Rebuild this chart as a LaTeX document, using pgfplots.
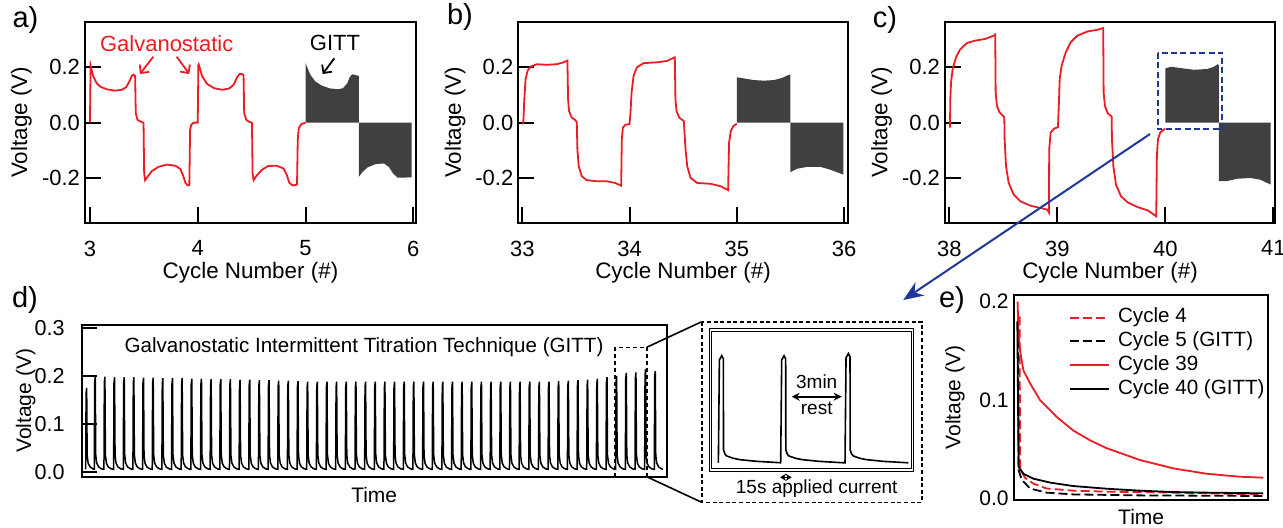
\documentclass[border=0pt]{standalone}
\usepackage{fontspec}
\setmainfont{Liberation Sans}
\usepackage{pgfplots}
\pgfplotsset{compat=1.18}
\usetikzlibrary{arrows.meta}
\definecolor{gred}{RGB}{237,28,36}
\definecolor{ggray}{RGB}{64,64,64}
\definecolor{gblue}{RGB}{31,56,148}
\pgfplotsset{
 cyc/.style={scale only axis, anchor=south west, height=100.35pt, ymin=-0.36, ymax=0.362,
   axis line style={line width=1pt}, tick style={black, line width=1pt}, major tick length=8pt,
   tick align=inside, xtick pos=left, ytick pos=left,
   ytick={-0.2,0,0.2}, yticklabels={-0.2,0.0,0.2},
   /pgf/number format/assume math mode=true,
   tick label style={font=\fontsize{11}{13}\selectfont},
   label style={font=\fontsize{11.2}{13}\selectfont, inner sep=0.5pt},
   xlabel={Cycle Number (\#)}, ylabel={Voltage (V)},
   xlabel style={at={(axis description cs:0.5,-0.249)}, anchor=center},
   ylabel style={at={(axis description cs:-0.192,0.5)}, anchor=center},
   xticklabel style={inner sep=0.5pt, yshift=-8.3pt}, yticklabel style={xshift=1pt}},
}
\begin{document}
\begin{tikzpicture}
\path[use as bounding box] (0,0) rectangle (641.5pt,263.5pt);
% ---------------- panel a
\begin{axis}[cyc, at={(42.5pt,152.15pt)}, width=165.5pt, xmin=2.954, xmax=6.025, xtick={3,4,5,6}]
\addplot[draw=none, fill=ggray] coordinates {(5.0,0)(5.0,0.214)(5.045,0.172)(5.091,0.148)(5.152,0.133)(5.227,0.123)(5.303,0.12)(5.348,0.124)(5.388,0.142)(5.409,0.163)(5.433,0.174)(5.494,0.168)(5.494,0)};
\addplot[draw=none, fill=ggray] coordinates {(5.494,0)(5.494,-0.195)(5.53,-0.177)(5.576,-0.161)(5.652,-0.149)(5.727,-0.147)(5.773,-0.159)(5.812,-0.183)(5.855,-0.198)(5.985,-0.197)(5.985,0)};
\addplot[gred, line width=0.9pt] coordinates {(3.0,0)(3.006,0.205)(3.031,0.166)(3.062,0.142)(3.093,0.13)(3.155,0.12)(3.233,0.115)(3.295,0.118)(3.335,0.127)(3.366,0.148)(3.388,0.168)(3.404,0.173)(3.419,0.168)(3.425,0.034)(3.441,0.01)(3.481,0.002)(3.497,0)(3.503,-0.183)(3.512,-0.207)(3.534,-0.195)(3.575,-0.174)(3.637,-0.159)(3.714,-0.151)(3.792,-0.155)(3.839,-0.167)(3.863,-0.189)(3.885,-0.216)(3.907,-0.226)(3.922,-0.225)(3.929,-0.026)(3.941,-0.007)(3.963,0)(4.0,0)(4.006,0.208)(4.009,0.21)(4.041,0.166)(4.088,0.139)(4.151,0.124)(4.23,0.118)(4.292,0.123)(4.333,0.136)(4.365,0.163)(4.387,0.175)(4.409,0.175)(4.425,0.171)(4.431,0.034)(4.45,0.01)(4.481,0.002)(4.503,0)(4.509,-0.183)(4.519,-0.207)(4.544,-0.192)(4.591,-0.171)(4.654,-0.156)(4.733,-0.155)(4.796,-0.165)(4.827,-0.189)(4.849,-0.216)(4.881,-0.226)(4.921,-0.223)(4.928,-0.062)(4.937,-0.02)(4.962,-0.005)(5.0,0)};
\end{axis}
% ---------------- panel b
\begin{axis}[cyc, at={(259.15pt,152.15pt)}, width=164.7pt, xmin=32.963, xmax=36.034, xtick={33,34,35,36}]
\addplot[draw=none, fill=ggray] coordinates {(35,0)(35,0.163)(35.068,0.159)(35.16,0.153)(35.253,0.151)(35.346,0.153)(35.423,0.161)(35.485,0.172)(35.5,0.172)(35.5,0)};
\addplot[draw=none, fill=ggray] coordinates {(35.5,0)(35.5,-0.178)(35.562,-0.166)(35.654,-0.159)(35.778,-0.159)(35.87,-0.169)(35.994,-0.187)(35.994,0)};
\addplot[gred, line width=0.9pt] coordinates {(33.009,-0.006)(33.019,0.084)(33.031,0.157)(33.05,0.187)(33.081,0.202)(33.134,0.21)(33.227,0.208)(33.321,0.21)(33.383,0.217)(33.421,0.223)(33.427,0.084)(33.436,0.042)(33.461,0.018)(33.492,0.01)(33.508,0.002)(33.514,-0.096)(33.526,-0.157)(33.555,-0.193)(33.601,-0.207)(33.695,-0.211)(33.788,-0.211)(33.866,-0.217)(33.922,-0.227)(33.928,-0.06)(33.938,-0.018)(33.96,-0.008)(34.0,-0.005)(34.009,0.036)(34.019,0.108)(34.038,0.169)(34.069,0.199)(34.131,0.214)(34.256,0.217)(34.35,0.222)(34.422,0.235)(34.428,0.084)(34.438,0.042)(34.463,0.018)(34.506,0.006)(34.522,-0.096)(34.538,-0.157)(34.569,-0.199)(34.631,-0.217)(34.756,-0.22)(34.85,-0.229)(34.919,-0.243)(34.928,-0.072)(34.944,-0.03)(34.969,-0.012)(35.0,-0.004)};
\end{axis}
% ---------------- panel c
\begin{axis}[cyc, at={(472.5pt,152.15pt)}, width=165pt, xmin=37.96, xmax=41.016, xtick={38,39,40,41}]
\addplot[draw=none, fill=ggray] coordinates {(40,0)(40,0.195)(40.055,0.201)(40.146,0.196)(40.268,0.19)(40.39,0.193)(40.451,0.201)(40.488,0.211)(40.495,0.205)(40.495,0)};
\addplot[draw=none, fill=ggray] coordinates {(40.495,0)(40.495,-0.21)(40.573,-0.21)(40.665,-0.202)(40.787,-0.199)(40.878,-0.205)(40.976,-0.223)(40.976,0)};
\addplot[gred, line width=0.9pt] coordinates {(38.006,-0.018)(38.009,0.084)(38.016,0.145)(38.031,0.193)(38.062,0.235)(38.099,0.263)(38.161,0.286)(38.239,0.295)(38.332,0.301)(38.41,0.313)(38.425,0.317)(38.429,0.108)(38.441,0.06)(38.466,0.036)(38.497,0.024)(38.509,0.02)(38.512,-0.06)(38.525,-0.157)(38.55,-0.217)(38.596,-0.259)(38.658,-0.283)(38.752,-0.299)(38.845,-0.307)(38.907,-0.313)(38.922,-0.323)(38.925,-0.096)(38.938,-0.036)(38.969,-0.022)(39.006,-0.016)(39.016,0.084)(39.022,0.157)(39.04,0.205)(39.078,0.253)(39.124,0.289)(39.186,0.313)(39.28,0.328)(39.373,0.334)(39.425,0.34)(39.429,0.108)(39.441,0.06)(39.466,0.034)(39.503,0.022)(39.506,-0.06)(39.519,-0.157)(39.543,-0.223)(39.59,-0.265)(39.652,-0.287)(39.745,-0.304)(39.839,-0.316)(39.916,-0.337)(39.922,-0.12)(39.932,-0.06)(39.953,-0.036)(39.978,-0.027)(40.0,-0.022)};
\end{axis}
% ---------------- panel d
\begin{axis}[scale only axis, anchor=south west, at={(40.85pt,25.15pt)}, width=292.5pt, height=75.85pt,
  xmin=-0.305, xmax=60.285, ymin=-0.0104, ymax=0.306, xtick=\empty,
  ytick={0,0.1,0.2,0.3}, yticklabels={0.0,0.1,0.2,0.3}, ytick pos=left, tick align=inside,
  major tick length=7.5pt, tick style={black, line width=0.9pt}, axis line style={line width=0.9pt},
  /pgf/number format/assume math mode=true,
  tick label style={font=\fontsize{10.8}{12}\selectfont}, yticklabel style={xshift=-5pt},
  label style={font=\fontsize{10.5}{12}\selectfont},
  xlabel={Time}, ylabel={Voltage (V)},
  xlabel style={at={(axis description cs:0.5,-0.1206)}, anchor=center},
  ylabel style={at={(axis description cs:-0.0959,0.5)}, anchor=center}]
\addplot[black, line width=0.75pt] coordinates {
(0.11,0.005)(0.15,0.163)(0.21,0.175)(0.26,0.035)(0.36,0.018)(0.56,0.01)(0.86,0.006)
(1,.005)(1.04,.186)(1.1,.198)(1.15,.035)(1.25,.018)(1.45,.01)(1.75,.006)
(2,.005)(2.04,.186)(2.1,.198)(2.15,.035)(2.25,.018)(2.45,.01)(2.75,.006)
(3,.005)(3.04,.185)(3.1,.197)(3.15,.035)(3.25,.018)(3.45,.01)(3.75,.006)
(4,.005)(4.04,.185)(4.1,.197)(4.15,.035)(4.25,.018)(4.45,.01)(4.75,.006)
(5,.005)(5.04,.185)(5.1,.197)(5.15,.035)(5.25,.018)(5.45,.01)(5.75,.006)
(6,.005)(6.04,.184)(6.1,.196)(6.15,.035)(6.25,.018)(6.45,.01)(6.75,.006)
(7,.005)(7.04,.184)(7.1,.196)(7.15,.035)(7.25,.018)(7.45,.01)(7.75,.006)
(8,.005)(8.04,.183)(8.1,.195)(8.15,.035)(8.25,.018)(8.45,.01)(8.75,.006)
(9,.005)(9.04,.183)(9.1,.195)(9.15,.035)(9.25,.018)(9.45,.01)(9.75,.006)
(10,.005)(10.04,.183)(10.1,.195)(10.15,.035)(10.25,.018)(10.45,.01)(10.75,.006)
(11,.005)(11.04,.182)(11.1,.194)(11.15,.035)(11.25,.018)(11.45,.01)(11.75,.006)
(12,.005)(12.04,.182)(12.1,.194)(12.15,.035)(12.25,.018)(12.45,.01)(12.75,.006)
(13,.005)(13.04,.181)(13.1,.193)(13.15,.035)(13.25,.018)(13.45,.01)(13.75,.006)
(14,.005)(14.04,.181)(14.1,.193)(14.15,.035)(14.25,.018)(14.45,.01)(14.75,.006)
(15,.005)(15.04,.181)(15.1,.193)(15.15,.035)(15.25,.018)(15.45,.01)(15.75,.006)
(16,.005)(16.04,.180)(16.1,.192)(16.15,.035)(16.25,.018)(16.45,.01)(16.75,.006)
(17,.005)(17.04,.180)(17.1,.192)(17.15,.035)(17.25,.018)(17.45,.01)(17.75,.006)
(18,.005)(18.04,.179)(18.1,.191)(18.15,.035)(18.25,.018)(18.45,.01)(18.75,.006)
(19,.005)(19.04,.179)(19.1,.191)(19.15,.035)(19.25,.018)(19.45,.01)(19.75,.006)
(20,.005)(20.04,.178)(20.1,.190)(20.15,.035)(20.25,.018)(20.45,.01)(20.75,.006)
(21,.005)(21.04,.178)(21.1,.190)(21.15,.035)(21.25,.018)(21.45,.01)(21.75,.006)
(22,.005)(22.04,.177)(22.1,.189)(22.15,.035)(22.25,.018)(22.45,.01)(22.75,.006)
(23,.005)(23.04,.176)(23.1,.188)(23.15,.035)(23.25,.018)(23.45,.01)(23.75,.006)
(24,.005)(24.04,.176)(24.1,.188)(24.15,.035)(24.25,.018)(24.45,.01)(24.75,.006)
(25,.005)(25.04,.176)(25.1,.188)(25.15,.035)(25.25,.018)(25.45,.01)(25.75,.006)
(26,.005)(26.04,.176)(26.1,.188)(26.15,.035)(26.25,.018)(26.45,.01)(26.75,.006)
(27,.005)(27.04,.176)(27.1,.188)(27.15,.035)(27.25,.018)(27.45,.01)(27.75,.006)
(28,.005)(28.04,.176)(28.1,.188)(28.15,.035)(28.25,.018)(28.45,.01)(28.75,.006)
(29,.005)(29.04,.176)(29.1,.188)(29.15,.035)(29.25,.018)(29.45,.01)(29.75,.006)
(30,.005)(30.04,.176)(30.1,.188)(30.15,.035)(30.25,.018)(30.45,.01)(30.75,.006)
(31,.005)(31.04,.176)(31.1,.188)(31.15,.035)(31.25,.018)(31.45,.01)(31.75,.006)
(32,.005)(32.04,.176)(32.1,.188)(32.15,.035)(32.25,.018)(32.45,.01)(32.75,.006)
(33,.005)(33.04,.176)(33.1,.188)(33.15,.035)(33.25,.018)(33.45,.01)(33.75,.006)
(34,.005)(34.04,.176)(34.1,.188)(34.15,.035)(34.25,.018)(34.45,.01)(34.75,.006)
(35,.005)(35.04,.176)(35.1,.188)(35.15,.035)(35.25,.018)(35.45,.01)(35.75,.006)
(36,.005)(36.04,.176)(36.1,.188)(36.15,.035)(36.25,.018)(36.45,.01)(36.75,.006)
(37,.005)(37.04,.176)(37.1,.188)(37.15,.035)(37.25,.018)(37.45,.01)(37.75,.006)
(38,.005)(38.04,.176)(38.1,.188)(38.15,.035)(38.25,.018)(38.45,.01)(38.75,.006)
(39,.005)(39.04,.176)(39.1,.188)(39.15,.035)(39.25,.018)(39.45,.01)(39.75,.006)
(40,.005)(40.04,.176)(40.1,.188)(40.15,.035)(40.25,.018)(40.45,.01)(40.75,.006)
(41,.005)(41.04,.176)(41.1,.188)(41.15,.035)(41.25,.018)(41.45,.01)(41.75,.006)
(42,.005)(42.04,.176)(42.1,.188)(42.15,.035)(42.25,.018)(42.45,.01)(42.75,.006)
(43,.005)(43.04,.176)(43.1,.188)(43.15,.035)(43.25,.018)(43.45,.01)(43.75,.006)
(44,.005)(44.04,.176)(44.1,.188)(44.15,.035)(44.25,.018)(44.45,.01)(44.75,.006)
(45,.005)(45.04,.176)(45.1,.188)(45.15,.035)(45.25,.018)(45.45,.01)(45.75,.006)
(46,.005)(46.04,.176)(46.1,.188)(46.15,.035)(46.25,.018)(46.45,.01)(46.75,.006)
(47,.005)(47.04,.176)(47.1,.188)(47.15,.035)(47.25,.018)(47.45,.01)(47.75,.006)
(48,.005)(48.04,.176)(48.1,.188)(48.15,.035)(48.25,.018)(48.45,.01)(48.75,.006)
(49,.005)(49.04,.177)(49.1,.189)(49.15,.035)(49.25,.018)(49.45,.01)(49.75,.006)
(50,.005)(50.04,.178)(50.1,.190)(50.15,.035)(50.25,.018)(50.45,.01)(50.75,.006)
(51,.005)(51.04,.179)(51.1,.191)(51.15,.035)(51.25,.018)(51.45,.01)(51.75,.006)
(52,.005)(52.04,.180)(52.1,.192)(52.15,.035)(52.25,.018)(52.45,.01)(52.75,.006)
(53,.005)(53.04,.182)(53.1,.194)(53.15,.035)(53.25,.018)(53.45,.01)(53.75,.006)
(54,.005)(54.04,.185)(54.1,.197)(54.15,.035)(54.25,.018)(54.45,.01)(54.75,.006)
(55,.005)(55.04,.188)(55.1,.200)(55.15,.035)(55.25,.018)(55.45,.01)(55.75,.006)
(56,.005)(56.04,.194)(56.1,.206)(56.15,.035)(56.25,.018)(56.45,.01)(56.75,.006)
(57,.005)(57.04,.195)(57.1,.207)(57.15,.035)(57.25,.018)(57.45,.01)(57.75,.006)
(58,.005)(58.04,.202)(58.1,.214)(58.15,.035)(58.25,.018)(58.45,.01)(58.75,.006)
(59,.005)(59.04,.198)(59.1,.210)(59.15,.035)(59.25,.018)(59.45,.01)(59.75,.006)(59.9,.005)};
\end{axis}
% ---------------- inset
\begin{axis}[scale only axis, anchor=south west, at={(355.35pt,28.5pt)}, width=101pt, height=70pt,
  xmin=0, xmax=3.19, ymin=-0.0124, ymax=0.2477, xtick=\empty, ytick=\empty,
  axis line style={line width=0.5pt, double, double distance=0.6pt}]
\addplot[black, line width=0.8pt] coordinates {(0.121,0.001)(0.137,0.192)(0.174,0.2)(0.2,0.194)(0.202,0.025)(0.226,0.017)(0.253,0.0136)(0.358,0.0093)(0.463,0.0068)(0.726,0.0037)(1.091,0.0012)
(1.105,0.001)(1.121,0.192)(1.158,0.2)(1.184,0.194)(1.186,0.025)(1.21,0.017)(1.237,0.0136)(1.342,0.0093)(1.447,0.0068)(1.71,0.0037)(2.075,0.0012)
(2.121,0.001)(2.137,0.196)(2.174,0.204)(2.2,0.198)(2.202,0.025)(2.226,0.017)(2.253,0.0136)(2.358,0.0093)(2.463,0.0068)(2.726,0.0037)(3.091,0.0012)(3.12,0.001)};
\end{axis}
% ---------------- panel e
\begin{axis}[scale only axis, anchor=south west, at={(507pt,13.5pt)}, width=127.15pt, height=102.5pt,
  xmin=0, xmax=1, ymin=-0.0017, ymax=0.2068, xtick=\empty,
  ytick={0,0.1,0.2}, yticklabels={0.0,0.1,0.2}, ytick pos=left, major tick length=0pt,
  axis line style={line width=0.9pt},
  /pgf/number format/assume math mode=true,
  tick label style={font=\fontsize{10.5}{12}\selectfont}, yticklabel style={xshift=0.8pt},
  label style={font=\fontsize{10.5}{12}\selectfont},
  xlabel={Time}, ylabel={Voltage (V)},
  xlabel style={at={(axis description cs:0.5,-0.0815)}, anchor=center},
  ylabel style={at={(axis description cs:-0.232,0.5)}, anchor=center},
  legend image code/.code={\draw[#1, line width=1pt] (0pt,0pt) -- (19.5pt,0pt);},
  legend cell align=left,
  legend style={at={(0.2135,0.94)}, anchor=north west, draw=none, fill=none, inner sep=0pt,
    font=\fontsize{10.3}{12}\selectfont, row sep=2.1pt, column sep=4.2pt,
    nodes={inner sep=0pt, text height=7.6pt, text depth=2.2pt}}]
\addplot[gred, line width=0.9pt, dash pattern=on 4.5pt off 2pt] coordinates {(0.022,0.185)(0.024,0.03)(0.043,0.021)(0.076,0.015)(0.128,0.010)(0.233,0.0078)(0.364,0.0068)(0.626,0.0058)(0.98,0.004)};
\addlegendentry{Cycle 4}
\addplot[black, line width=0.9pt, dash pattern=on 4.5pt off 2pt] coordinates {(0.016,0.175)(0.018,0.029)(0.03,0.019)(0.063,0.010)(0.128,0.0058)(0.233,0.004)(0.495,0.003)(0.98,0.0024)};
\addlegendentry{Cycle 5 (GITT)}
\addplot[gred, line width=0.9pt] coordinates {(0.014,0.2)(0.018,0.165)(0.026,0.147)(0.037,0.13)(0.063,0.117)(0.102,0.1)(0.167,0.083)(0.233,0.069)(0.299,0.059)(0.364,0.051)(0.495,0.039)(0.626,0.0305)(0.757,0.025)(0.888,0.022)(0.98,0.021)};
\addlegendentry{Cycle 39}
\addplot[black, line width=0.9pt] coordinates {(0.013,0.18)(0.018,0.032)(0.037,0.025)(0.076,0.02)(0.142,0.016)(0.233,0.0125)(0.364,0.0098)(0.495,0.0078)(0.626,0.0064)(0.757,0.0058)(0.98,0.0051)};
\addlegendentry{Cycle 40 (GITT)}
\end{axis}
% ---------------- annotations (pixel coordinates)
\begin{scope}[x=0.5pt, y=-0.5pt, yshift=263.5pt]
 \node[font=\fontsize{14.5}{17}\selectfont] at (25.5,20) {a)};
 \node[font=\fontsize{14.5}{17}\selectfont] at (460,17) {b)};
 \node[font=\fontsize{14.5}{17}\selectfont] at (885,20) {c)};
 \node[font=\fontsize{14.5}{17}\selectfont] at (25,300) {d)};
 \node[font=\fontsize{14.5}{17}\selectfont] at (952,300) {e)};
 \node[gred, font=\fontsize{11}{13}\selectfont] at (166.7,43.3) {Galvanostatic};
 \draw[gred, line width=0.9pt, -{Straight Barb[length=3pt,width=6pt]}] (153.3,56.7) -- (140,74);
 \draw[gred, line width=0.9pt, -{Straight Barb[length=3pt,width=6pt]}] (176.7,56.7) -- (189.3,74);
 \node[font=\fontsize{11}{13}\selectfont] at (335,43.3) {GITT};
 \draw[black, line width=0.9pt, -{Straight Barb[length=3pt,width=6pt]}] (334.3,58.3) -- (322.7,74);
 \draw[gblue, line width=0.85pt, dash pattern=on 3pt off 1.7pt] (1157.7,52.7) rectangle (1222.3,129.3);
 \draw[gblue, line width=1pt, -{Stealth[length=10pt,width=8pt]}] (1150,134) -- (903.3,300);
 \node[font=\fontsize{10.3}{12}\selectfont] at (364,347) {Galvanostatic Intermittent Titration Technique (GITT)};
 \draw[black, line width=0.8pt, dash pattern=on 2pt off 1.5pt] (615,476.7) -- (615,347.3) -- (646.7,347.3) -- (646.7,476.7);
 \draw[black, line width=0.8pt] (646.7,347.3) -- (701.7,321.7) (646.7,476.7) -- (701.7,502.3);
 \draw[black, line width=0.8pt, dash pattern=on 2pt off 1.3pt] (701.7,321.7) rectangle (921.7,502.3);
 \node[font=\fontsize{9.5}{11}\selectfont] at (816.7,381.7) {3min};
 \node[font=\fontsize{9.5}{11}\selectfont] at (816.7,408.3) {rest};
 \draw[black, line width=0.8pt, {Stealth[length=4pt,width=4pt]}-{Stealth[length=4pt,width=4pt]}] (791.7,396.7) -- (841.7,396.7);
 \node[font=\fontsize{9.5}{11}\selectfont] at (816.7,488.3) {15s applied current};
 \draw[black, line width=0.8pt, {Stealth[length=3pt,width=3.5pt]}-{Stealth[length=3pt,width=3.5pt]}] (780,477.3) -- (791.7,477.3);
\end{scope}
\end{tikzpicture}
\end{document}
